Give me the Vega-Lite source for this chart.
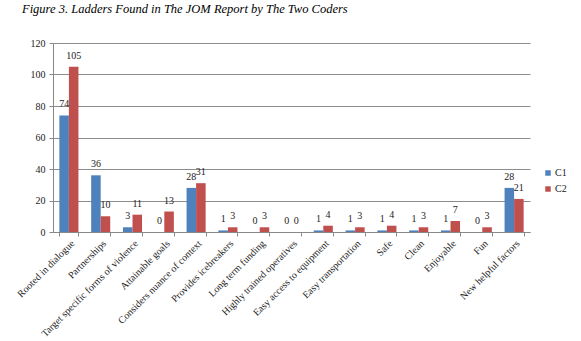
{
  "$schema": "https://vega.github.io/schema/vega-lite/v6.json",
  "autosize": {"type": "none"},
  "width": 477,
  "height": 189,
  "padding": {"left": 53, "top": 43, "right": 51, "bottom": 109},
  "background": "white",
  "title": {
    "text": "Figure 3. Ladders Found in The JOM Report by The Two Coders",
    "anchor": "start",
    "frame": "group",
    "dx": -31,
    "offset": 23,
    "font": "'Liberation Serif', 'Times New Roman', 'DejaVu Serif', serif",
    "fontSize": 12.5,
    "fontStyle": "italic",
    "fontWeight": "normal",
    "color": "#000000"
  },
  "data": {
    "values": [
      {"factor": "Rooted in dialogue", "coder": "C1", "count": 74},
      {"factor": "Rooted in dialogue", "coder": "C2", "count": 105},
      {"factor": "Partnerships", "coder": "C1", "count": 36},
      {"factor": "Partnerships", "coder": "C2", "count": 10},
      {"factor": "Target specific forms of violence", "coder": "C1", "count": 3},
      {"factor": "Target specific forms of violence", "coder": "C2", "count": 11},
      {"factor": "Attainable goals", "coder": "C1", "count": 0},
      {"factor": "Attainable goals", "coder": "C2", "count": 13},
      {"factor": "Considers nuance of context", "coder": "C1", "count": 28},
      {"factor": "Considers nuance of context", "coder": "C2", "count": 31},
      {"factor": "Provides icebreakers", "coder": "C1", "count": 1},
      {"factor": "Provides icebreakers", "coder": "C2", "count": 3},
      {"factor": "Long term funding", "coder": "C1", "count": 0},
      {"factor": "Long term funding", "coder": "C2", "count": 3},
      {"factor": "Highly trained operatives", "coder": "C1", "count": 0},
      {"factor": "Highly trained operatives", "coder": "C2", "count": 0},
      {"factor": "Easy access  to equipment", "coder": "C1", "count": 1},
      {"factor": "Easy access  to equipment", "coder": "C2", "count": 4},
      {"factor": "Easy transportation", "coder": "C1", "count": 1},
      {"factor": "Easy transportation", "coder": "C2", "count": 3},
      {"factor": "Safe", "coder": "C1", "count": 1},
      {"factor": "Safe", "coder": "C2", "count": 4},
      {"factor": "Clean", "coder": "C1", "count": 1},
      {"factor": "Clean", "coder": "C2", "count": 3},
      {"factor": "Enjoyable", "coder": "C1", "count": 1},
      {"factor": "Enjoyable", "coder": "C2", "count": 7},
      {"factor": "Fun", "coder": "C1", "count": 0},
      {"factor": "Fun", "coder": "C2", "count": 3},
      {"factor": "New helpful factors", "coder": "C1", "count": 28},
      {"factor": "New helpful factors", "coder": "C2", "count": 21}
    ]
  },
  "encoding": {
    "x": {
      "field": "factor",
      "type": "nominal",
      "sort": null,
      "scale": {"paddingInner": 0.4, "paddingOuter": 0.2},
      "axis": {
        "title": null,
        "labelAngle": -45,
        "labelAlign": "right",
        "labelBaseline": "top",
        "labelFont": "'Liberation Serif', 'Times New Roman', 'DejaVu Serif', serif",
        "labelFontSize": 10,
        "labelColor": "#222222",
        "labelPadding": 2,
        "tickBand": "extent",
        "tickSize": 4,
        "tickColor": "#888888",
        "domainColor": "#888888",
        "grid": false
      }
    },
    "xOffset": {"field": "coder", "type": "nominal"},
    "y": {
      "field": "count",
      "type": "quantitative",
      "scale": {"domain": [0, 120]},
      "axis": {
        "title": null,
        "values": [0, 20, 40, 60, 80, 100, 120],
        "labelFont": "'Liberation Serif', 'Times New Roman', 'DejaVu Serif', serif",
        "labelFontSize": 10,
        "labelColor": "#222222",
        "tickSize": 4,
        "tickColor": "#888888",
        "domain": true,
        "domainColor": "#888888",
        "grid": true,
        "gridColor": "#8c8c8c",
        "gridWidth": 1,
        "labelPadding": 4
      }
    }
  },
  "layer": [
    {
      "mark": {"type": "bar"},
      "encoding": {
        "color": {
          "field": "coder",
          "type": "nominal",
          "scale": {"domain": ["C1", "C2"], "range": ["#4F81BD", "#C0504D"]},
          "legend": {
            "title": null,
            "orient": "none",
            "legendX": 490,
            "legendY": 125,
            "symbolType": "square",
            "symbolSize": 30,
            "symbolStrokeWidth": 0,
            "labelFont": "'Liberation Serif', 'Times New Roman', 'DejaVu Serif', serif",
            "labelFontSize": 10,
            "labelColor": "#222222",
            "labelOffset": 2,
            "rowPadding": 6
          }
        }
      }
    },
    {
      "mark": {
        "type": "text",
        "dy": -6,
        "font": "'Liberation Serif', 'Times New Roman', 'DejaVu Serif', serif",
        "fontSize": 10,
        "color": "#222222",
        "baseline": "bottom"
      },
      "encoding": {
        "text": {"field": "count", "type": "quantitative"}
      }
    }
  ],
  "config": {
    "view": {"stroke": null}
  }
}
